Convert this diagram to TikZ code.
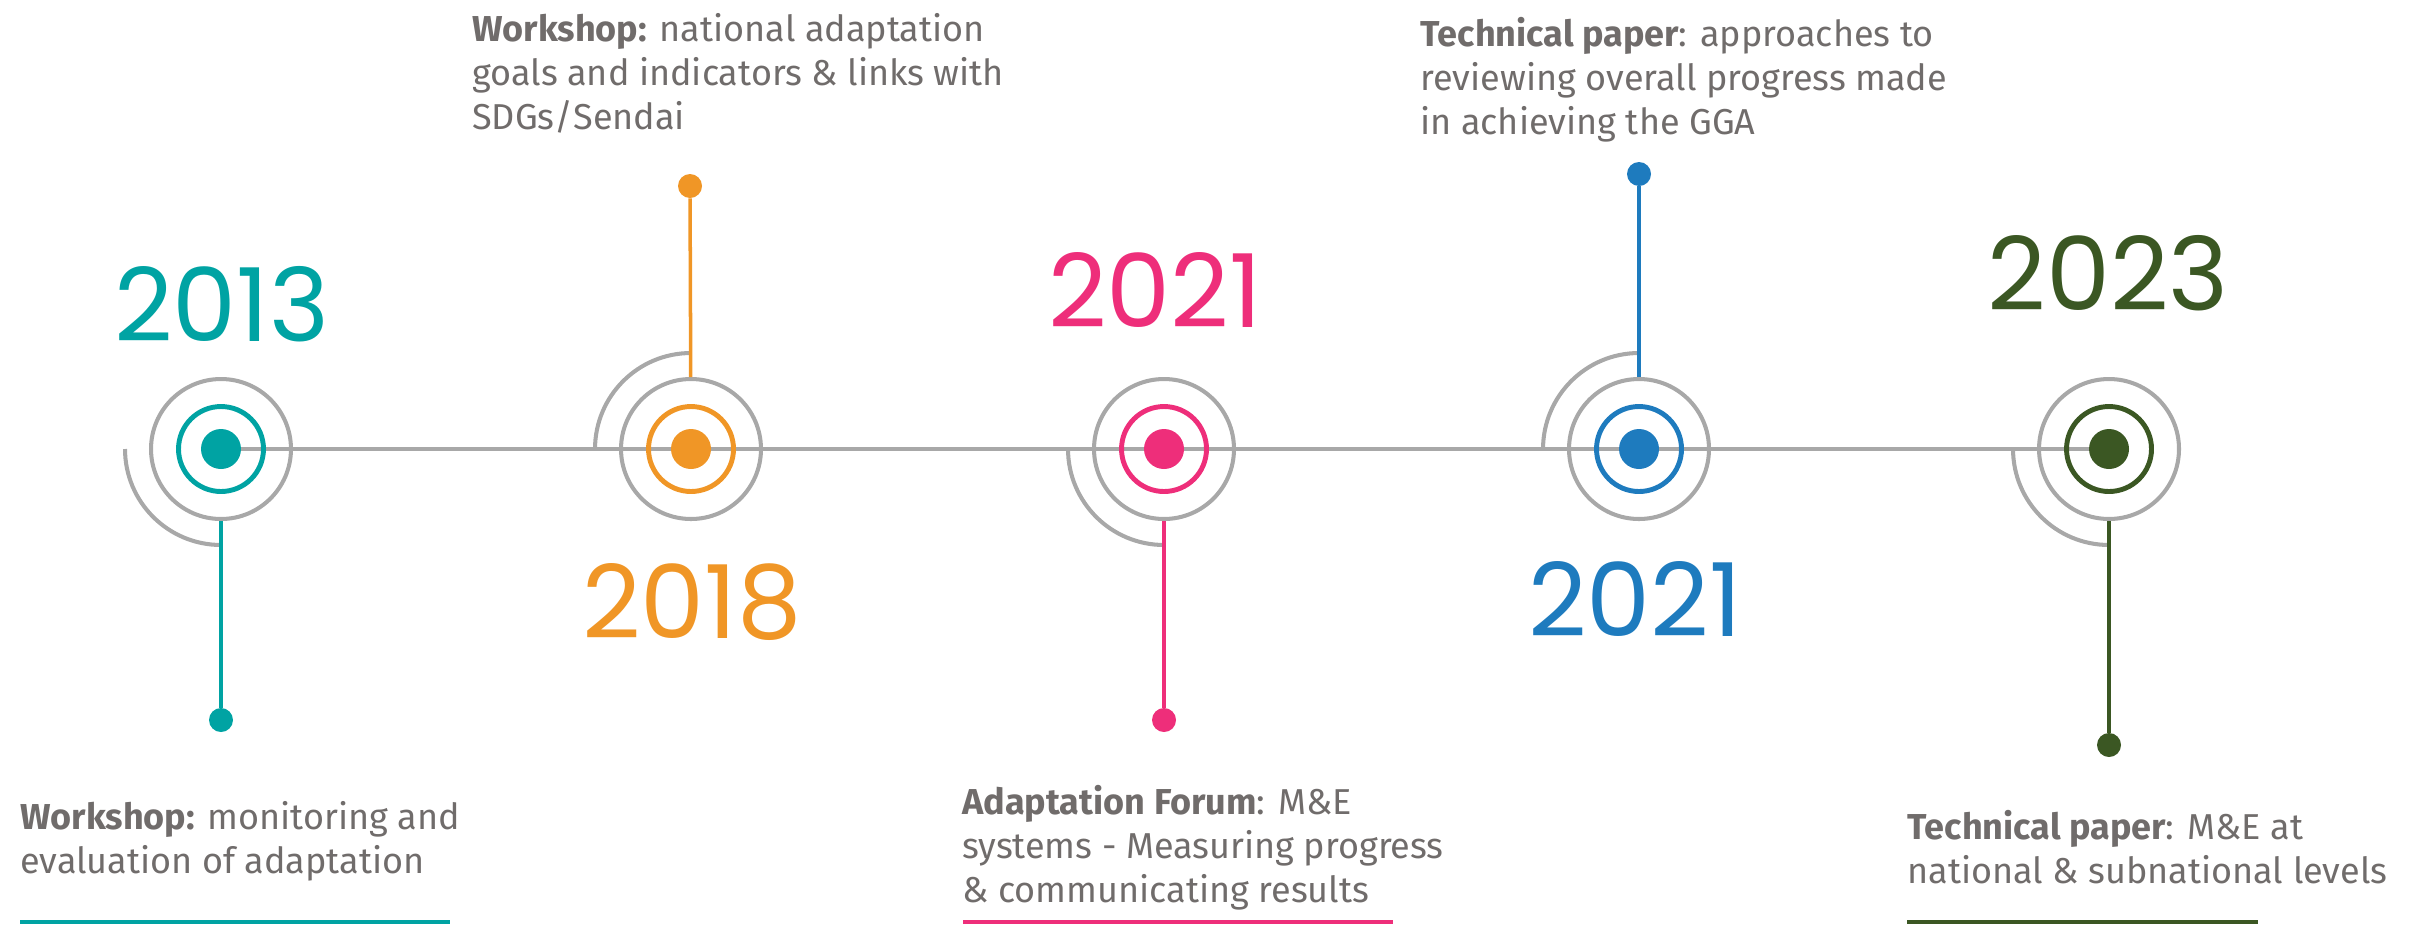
\documentclass[tikz,border=0pt]{standalone}
\usepackage{fontspec}
\setmainfont{Fira Sans}
\newfontfamily\yearfont{Poppins}
\usepackage{tikz}

\definecolor{tlteal}{RGB}{0,163,163}
\definecolor{tlorange}{RGB}{240,150,38}
\definecolor{tlpink}{RGB}{238,46,122}
\definecolor{tlblue}{RGB}{30,123,190}
\definecolor{tlgreen}{RGB}{59,87,35}
\definecolor{ringgray}{RGB}{168,168,168}
\definecolor{txtgray}{RGB}{112,108,107}

\begin{document}
\begin{tikzpicture}[x=0.02cm,y=-0.02cm,
  timeline/.style={draw=ringgray,line width=2.3pt},
  arcline/.style={draw=ringgray,line width=2.3pt},
  halo/.style={circle,draw=ringgray,line width=2.3pt,minimum size=2.8cm,inner sep=0pt},
  ring/.style={circle,draw=#1,line width=2.8pt,minimum size=1.7cm,inner sep=0pt},
  core/.style={circle,fill=#1,minimum size=0.8cm,inner sep=0pt},
  tipdot/.style={circle,fill=#1,minimum size=0.48cm,inner sep=0pt},
  stem/.style={draw=#1,line width=2pt},
  year/.style={text=#1,font=\yearfont\fontsize{58}{58}\selectfont,inner sep=0pt,anchor=base},
  % base anchor sits on the last line of the text
  event/.style={text=txtgray,font=\fontsize{20.5}{25}\selectfont,align=left,inner sep=0pt,anchor=base west},
  underline/.style={draw=#1,line width=2.8pt}]
  \useasboundingbox (0,0) rectangle (2409,924);

  % the time line
  \coordinate (m13) at (221,449);
  \coordinate (m18) at (691,449);
  \coordinate (m21a) at (1164,449);
  \coordinate (m21b) at (1639,449);
  \coordinate (m23) at (2109,449);
  \draw[timeline] (m13) -- (m23);

  % 2013
  \node[halo] (h13) at (m13) {};
  \node[ring=tlteal] (r13) at (m13) {};
  \node[core=tlteal] (c13) at (m13) {};
  \draw[arcline] (m13) ++(180:1.92cm) arc[start angle=180,end angle=270,radius=1.92cm];
  \node[tipdot=tlteal] (p13) at (221,720) {};
  \draw[stem=tlteal] (h13) -- (p13);
  \node[year=tlteal] (y13) at (222,341) {2013};
  \node[event] (e13) at (20,873) {\textbf{Workshop:} monitoring and\\evaluation of adaptation};
  \draw[underline=tlteal] (20,922) -- (450,922);

  % 2018
  \node[halo] (h18) at (m18) {};
  \node[ring=tlorange] (r18) at (m18) {};
  \node[core=tlorange] (c18) at (m18) {};
  \draw[arcline] (m18) ++(90:1.92cm) arc[start angle=90,end angle=180,radius=1.92cm];
  \node[tipdot=tlorange] (p18) at (690,186) {};
  \draw[stem=tlorange] (h18) -- (p18);
  \node[year=tlorange] (y18) at (692,638) {2018};
  \node[event] (e18) at (472,129) {\textbf{Workshop:} national adaptation\\goals and indicators \& links with\\SDGs/Sendai};

  % 2021, forum
  \node[halo] (h21a) at (m21a) {};
  \node[ring=tlpink] (r21a) at (m21a) {};
  \node[core=tlpink] (c21a) at (m21a) {};
  \draw[arcline] (m21a) ++(180:1.92cm) arc[start angle=180,end angle=270,radius=1.92cm];
  \node[tipdot=tlpink] (p21a) at (1164,720) {};
  \draw[stem=tlpink] (h21a) -- (p21a);
  \node[year=tlpink] (y21a) at (1155,327) {2021};
  \node[event] (e21a) at (962,902) {\textbf{Adaptation Forum}: M\&E\\systems - Measuring progress\\\& communicating results};
  \draw[underline=tlpink] (963,922) -- (1393,922);

  % 2021, technical paper
  \node[halo] (h21b) at (m21b) {};
  \node[ring=tlblue] (r21b) at (m21b) {};
  \node[core=tlblue] (c21b) at (m21b) {};
  \draw[arcline] (m21b) ++(90:1.92cm) arc[start angle=90,end angle=180,radius=1.92cm];
  \node[tipdot=tlblue] (p21b) at (1639,174) {};
  \draw[stem=tlblue] (h21b) -- (p21b);
  \node[year=tlblue] (y21b) at (1635,636) {2021};
  \node[event] (e21b) at (1420,134) {\textbf{Technical paper}: approaches to\\reviewing overall progress made\\in achieving the GGA};

  % 2023
  \node[halo] (h23) at (m23) {};
  \node[ring=tlgreen] (r23) at (m23) {};
  \node[core=tlgreen] (c23) at (m23) {};
  \draw[arcline] (m23) ++(180:1.92cm) arc[start angle=180,end angle=270,radius=1.92cm];
  \node[tipdot=tlgreen] (p23) at (2109,745) {};
  \draw[stem=tlgreen] (h23) -- (p23);
  \node[year=tlgreen] (y23) at (2108,310) {2023};
  \node[event] (e23) at (1907,883) {\textbf{Technical paper}: M\&E at\\national \& subnational levels};
  \draw[underline=tlgreen] (1907,922) -- (2258,922);
\end{tikzpicture}
\end{document}
